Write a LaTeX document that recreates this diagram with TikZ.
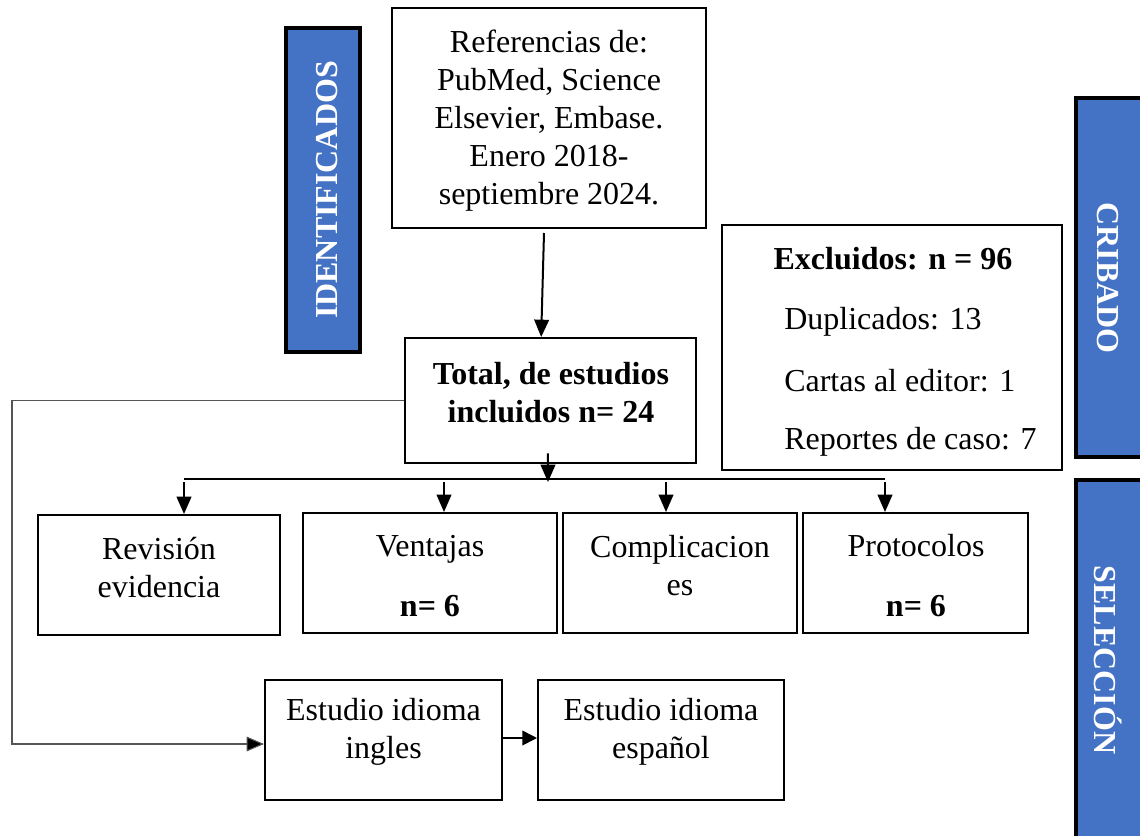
\documentclass[tikz,border=0pt]{standalone}
\usepackage{fontspec}
\setmainfont{Liberation Serif}
\usetikzlibrary{arrows.meta}
\definecolor{barblue}{HTML}{4472C4}
\definecolor{connGray}{HTML}{555555}
\begin{document}
\begin{tikzpicture}[x=0.75pt,y=-0.75pt,
  font=\fontsize{24}{28.5}\selectfont,
  box/.style={draw=black, line width=1.5pt, fill=white, inner sep=0pt},
  txt/.style={align=center, inner sep=0pt},
  bar/.style={draw=black, line width=3pt, fill=barblue, inner sep=0pt},
  bartext/.style={text=white, inner sep=0pt, font=\fontsize{24}{28.5}\selectfont\bfseries},
  arr/.style={line width=1.5pt, -{Triangle[length=13pt,width=11pt]}},
  thinline/.style={line width=0.8pt},
  conn/.style={line width=0.8pt, draw=connGray, -{Triangle[length=13pt,width=11pt,fill=black]}}
]
\useasboundingbox (0,0) rectangle (1140,836);
\clip (0,0) rectangle (1140,836);

% side bars
\node[bar, minimum width=55.5pt, minimum height=243pt] (bid) at (323,190) {};
\node[bartext, rotate=90] (bidt) at (327,190) {IDENTIFICADOS};
\node[bar, minimum width=60pt, minimum height=269.25pt] (bcr) at (1116,277.5) {};
\node[bartext, rotate=-90] (bcrt) at (1108,278) {CRIBADO};
\node[bar, minimum width=60pt, minimum height=277.5pt] (bse) at (1116,665) {};
\node[bartext, rotate=-90] (bset) at (1108,660) {SELECCIÓN};

% main boxes
\node[box, minimum width=235.5pt, minimum height=165pt] (ref) at (549,118) {};
\node[txt] (reft) at (549,121) {Referencias de:\\PubMed, Science\\Elsevier, Embase.\\Enero 2018-\\septiembre 2024.};

\node[box, minimum width=218.25pt, minimum height=93.75pt] (tot) at (550.5,400.5) {};
\node[txt, font=\fontsize{24}{28.5}\selectfont\bfseries] (tott) at (551,393) {Total, de estudios\\incluidos n= 24};

\node[box, minimum width=255pt, minimum height=183.75pt] (exc) at (892,347.5) {};
\node[txt, font=\fontsize{24}{28.5}\selectfont\bfseries] (exc0) at (893,259) {Excluidos: n = 96};
\node[txt, anchor=west] (exc1) at (784,322) {Duplicados: 13};
\node[txt, anchor=west] (exc2) at (784,381) {Cartas al editor: 1};
\node[txt, anchor=west] (exc3) at (784,442) {Reportes de caso: 7};

% second row
\node[box, minimum width=181.5pt, minimum height=90pt] (rev) at (159,575) {};
\node[txt] (revt) at (159,568) {Revisión\\evidencia};
\node[box, minimum width=190.5pt, minimum height=90pt] (ven) at (430,573) {};
\node[txt] (vent) at (430,576) {Ventajas\\[16.5pt]\textbf{n= 6}};
\node[box, minimum width=175.5pt, minimum height=90pt] (com) at (680,573) {};
\node[txt] (comt) at (680,566) {Complicacion\\es};
\node[box, minimum width=168.75pt, minimum height=90pt] (pro) at (915.5,573) {};
\node[txt] (prot) at (916,576) {Protocolos\\[16.5pt]\textbf{n= 6}};

% third row
\node[box, minimum width=177.75pt, minimum height=90pt] (ing) at (383.5,740) {};
\node[txt] (ingt) at (383.5,732) {Estudio idioma\\ingles};
\node[box, minimum width=184.5pt, minimum height=90pt] (esp) at (661,740) {};
\node[txt] (espt) at (661,732) {Estudio idioma\\español};

% connectors
\draw[arr] ([xshift=-3.75pt,yshift=-3pt]ref.south) -- ([xshift=-7pt]tot.north);
\coordinate (j) at (548,482);
\draw[arr] ([xshift=-1.9pt,yshift=8pt]tot.south) -- (j);
\coordinate (hl) at (184,479);
\coordinate (hr) at (885,479);
\draw[thinline] (hl) -- (hr);
\draw[arr] (184,482) -- (rev.north -| 184,0);
\draw[arr] (444,482) -- (ven.north -| 444,0);
\draw[arr] (666,482) -- (com.north -| 666,0);
\draw[arr] (885,482) -- (pro.north -| 885,0);
\draw[conn] (tot.west) -- (12,400.5) |- ([yshift=-3pt]ing.west);
\draw[line width=1.2pt, -{Triangle[length=11pt,width=11pt]}] ([yshift=1.5pt]ing.east) -- ([yshift=1.5pt]esp.west);
\end{tikzpicture}
\end{document}
